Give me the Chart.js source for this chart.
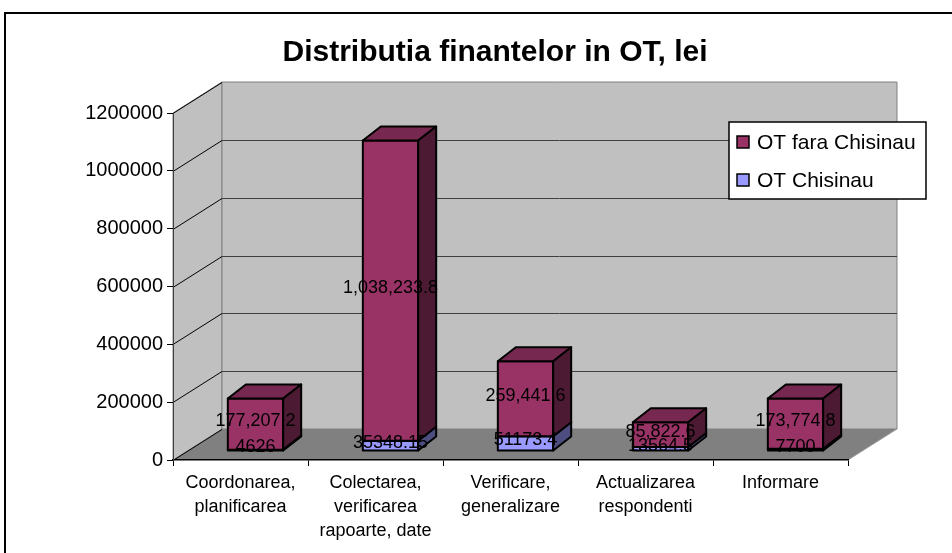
<!DOCTYPE html>
<html>
<head>
<meta charset="utf-8">
<title>Distributia finantelor in OT, lei</title>
<script src="https://cdn.jsdelivr.net/npm/chart.js"></script>
<style>
  html, body { margin: 0; padding: 0; background: #fff; }
  #wrap { width: 952px; height: 553px; }
</style>
</head>
<body>
<div id="wrap"><canvas id="chart" width="952" height="553"></canvas></div>
<script>
// data
const categories = [
  ['Coordonarea,', 'planificarea'],
  ['Colectarea,', 'verificarea', 'rapoarte, date'],
  ['Verificare,', 'generalizare'],
  ['Actualizarea', 'respondenti'],
  ['Informare']
];
const otChisinau = [4626, 35348.15, 51173.4, 13564.5, 7700];
const otFaraChisinau = [177207.2, 1038233.8, 259441.6, 85822.6, 173774.8];
const yTickValues = [0, 200000, 400000, 600000, 800000, 1000000, 1200000];
const seriesNames = ['OT Chisinau', 'OT fara Chisinau'];

// look of the fake 3d
const FONT = '"Liberation Sans", Arial, sans-serif';
const wallDepth = { x: 49, y: -31 };
const barShift = { x: 15, y: -9 };
const barDepth = { x: 18, y: -14 };
const faces = [
  { front: '#9999ff', top: '#7a7acc', side: '#4d4d80' },
  { front: '#993366', top: '#772850', side: '#4d1a33' }
];

function poly(ctx, pts, fill, stroke, lw) {
  ctx.beginPath();
  ctx.moveTo(pts[0][0], pts[0][1]);
  for (let i = 1; i < pts.length; i++) ctx.lineTo(pts[i][0], pts[i][1]);
  ctx.closePath();
  if (fill) { ctx.fillStyle = fill; ctx.fill(); }
  if (stroke) { ctx.strokeStyle = stroke; ctx.lineWidth = lw || 1; ctx.stroke(); }
}

function fmtLabel(dsIndex, v) {
  if (dsIndex === 1) return v.toLocaleString('en-US', { minimumFractionDigits: 1, maximumFractionDigits: 1 });
  return String(v);
}

const box3d = {
  id: 'box3d',
  beforeDraw(chart) {
    const ctx = chart.ctx;
    const { left, right, top, bottom } = chart.chartArea;
    const dx = wallDepth.x, dy = wallDepth.y;
    const yScale = chart.scales.y;
    ctx.save();
    ctx.fillStyle = '#fff';
    ctx.fillRect(0, 0, chart.width, chart.height);
    // outer frame (cut off right and bottom)
    ctx.strokeStyle = '#000';
    ctx.lineWidth = 2;
    ctx.strokeRect(5, 13, chart.width + 40, chart.height + 40);

    // side wall, back wall, floor
    poly(ctx, [[left, top], [left + dx, top + dy], [left + dx, bottom + dy], [left, bottom]], '#c0c0c0', '#808080', 1);
    poly(ctx, [[left + dx, top + dy], [right + dx, top + dy], [right + dx, bottom + dy], [left + dx, bottom + dy]], '#c0c0c0', '#808080', 1);
    poly(ctx, [[left, bottom], [right, bottom], [right + dx, bottom + dy], [left + dx, bottom + dy]], '#808080', null);
    ctx.beginPath();
    ctx.moveTo(right, bottom);
    ctx.lineTo(right + dx, bottom + dy);
    ctx.strokeStyle = '#a0a0a0';
    ctx.lineWidth = 1;
    ctx.stroke();

    // grid lines on the walls
    yScale.ticks.forEach(t => {
      const py = Math.round(yScale.getPixelForValue(t.value)) + 0.5;
      ctx.beginPath();
      ctx.moveTo(left, py);
      ctx.lineTo(left + dx, py + dy);
      ctx.strokeStyle = '#000';
      ctx.stroke();
      if (t.value > 0 && t.value < yScale.max) {
        ctx.beginPath();
        ctx.moveTo(left + dx, py + dy);
        ctx.lineTo(right + dx, py + dy);
        ctx.strokeStyle = '#404040';
        ctx.stroke();
      }
    });
    ctx.restore();
  },
  beforeDatasetsDraw(chart) {
    const ctx = chart.ctx;
    const n = chart.data.labels.length;
    ctx.save();
    for (let j = 0; j < n; j++) {
      chart.data.datasets.forEach((ds, i) => {
        const el = chart.getDatasetMeta(i).data[j];
        const p = el.getProps(['x', 'y', 'base', 'width'], true);
        const l = p.x - p.width / 2 + barShift.x;
        const r = p.x + p.width / 2 + barShift.x;
        const t = Math.min(p.y, p.base) + barShift.y;
        const b = Math.max(p.y, p.base) + barShift.y;
        const f = faces[i];
        ctx.lineJoin = 'round';
        poly(ctx, [[l, t], [r, t], [r, b], [l, b]], f.front, '#000', 2);
        poly(ctx, [[l, t], [l + barDepth.x, t + barDepth.y], [r + barDepth.x, t + barDepth.y], [r, t]], f.top, '#000', 2);
        poly(ctx, [[r, t], [r + barDepth.x, t + barDepth.y], [r + barDepth.x, b + barDepth.y], [r, b]], f.side, '#000', 2);
      });
    }
    // value labels
    ctx.font = '18px ' + FONT;
    ctx.fillStyle = '#000';
    ctx.textAlign = 'center';
    ctx.textBaseline = 'middle';
    chart.data.datasets.forEach((ds, i) => {
      chart.getDatasetMeta(i).data.forEach((el, j) => {
        const p = el.getProps(['x', 'y', 'base'], true);
        ctx.fillText(fmtLabel(i, ds.data[j]), p.x + barShift.x, (p.y + p.base) / 2 + barShift.y - 3);
      });
    });
    ctx.restore();
    return false;
  },
  afterDraw(chart) {
    const ctx = chart.ctx;
    const lx = 729, ly = 122, lw = 197, lh = 77;
    ctx.save();
    ctx.fillStyle = '#fff';
    ctx.fillRect(lx, ly, lw, lh);
    ctx.strokeStyle = '#000';
    ctx.lineWidth = 1.5;
    ctx.strokeRect(lx, ly, lw, lh);
    ctx.font = '21px ' + FONT;
    ctx.textBaseline = 'middle';
    ctx.textAlign = 'left';
    const order = [1, 0];
    order.forEach((i, k) => {
      const cy = ly + 20 + k * 38;
      ctx.fillStyle = faces[i].front;
      ctx.fillRect(lx + 8, cy - 6, 12, 12);
      ctx.strokeStyle = '#000';
      ctx.lineWidth = 1.5;
      ctx.strokeRect(lx + 8, cy - 6, 12, 12);
      ctx.fillStyle = '#000';
      ctx.fillText(chart.data.datasets[i].label, lx + 28, cy + 1);
    });
    ctx.restore();
  }
};

const ctx = document.getElementById('chart').getContext('2d');
const chart = new Chart(ctx, {
  type: 'bar',
  data: {
    labels: categories,
    datasets: [
      { label: seriesNames[0], data: otChisinau, backgroundColor: faces[0].front },
      { label: seriesNames[1], data: otFaraChisinau, backgroundColor: faces[1].front }
    ]
  },
  options: {
    responsive: false,
    devicePixelRatio: 1,
    animation: false,
    events: [],
    layout: { padding: { left: 38, right: 0, top: 0, bottom: 0 } },
    categoryPercentage: 1,
    barPercentage: 0.41,
    plugins: {
      legend: { display: false },
      tooltip: { enabled: false },
      title: {
        display: true,
        text: 'Distributia finantelor in OT, lei',
        color: '#000',
        font: { family: FONT, size: 30, weight: 'bold', lineHeight: '32px' },
        padding: { top: 37, bottom: 44 }
      }
    },
    scales: {
      x: {
        stacked: true,
        grid: { offset: true, drawOnChartArea: false, drawTicks: true, tickLength: 6, color: '#000' },
        border: { display: true, color: '#000', width: 1.5 },
        ticks: {
          color: '#000',
          font: { family: FONT, size: 18, lineHeight: 1.333 },
          padding: 5,
          maxRotation: 0,
          autoSkip: false
        },
        afterFit(scale) { scale.height = 93; }
      },
      y: {
        stacked: true,
        min: 0,
        max: yTickValues[yTickValues.length - 1],
        afterBuildTicks(scale) { scale.ticks = yTickValues.map(v => ({ value: v })); },
        grid: { drawOnChartArea: false, drawTicks: true, tickLength: 6, color: '#000' },
        border: { display: true, color: '#404040', width: 1 },
        ticks: {
          color: '#000',
          font: { family: FONT, size: 20 },
          padding: 4,
          callback: v => String(v)
        },
        afterFit(scale) { scale.width = 135; }
      },
      // empty space on the right where the 3d depth and legend sit
      pad: {
        type: 'linear',
        position: 'right',
        display: true,
        grid: { display: false },
        border: { display: false },
        ticks: { display: false },
        afterFit(scale) { scale.width = 104; }
      }
    }
  },
  plugins: [box3d]
});
</script>
</body>
</html>
